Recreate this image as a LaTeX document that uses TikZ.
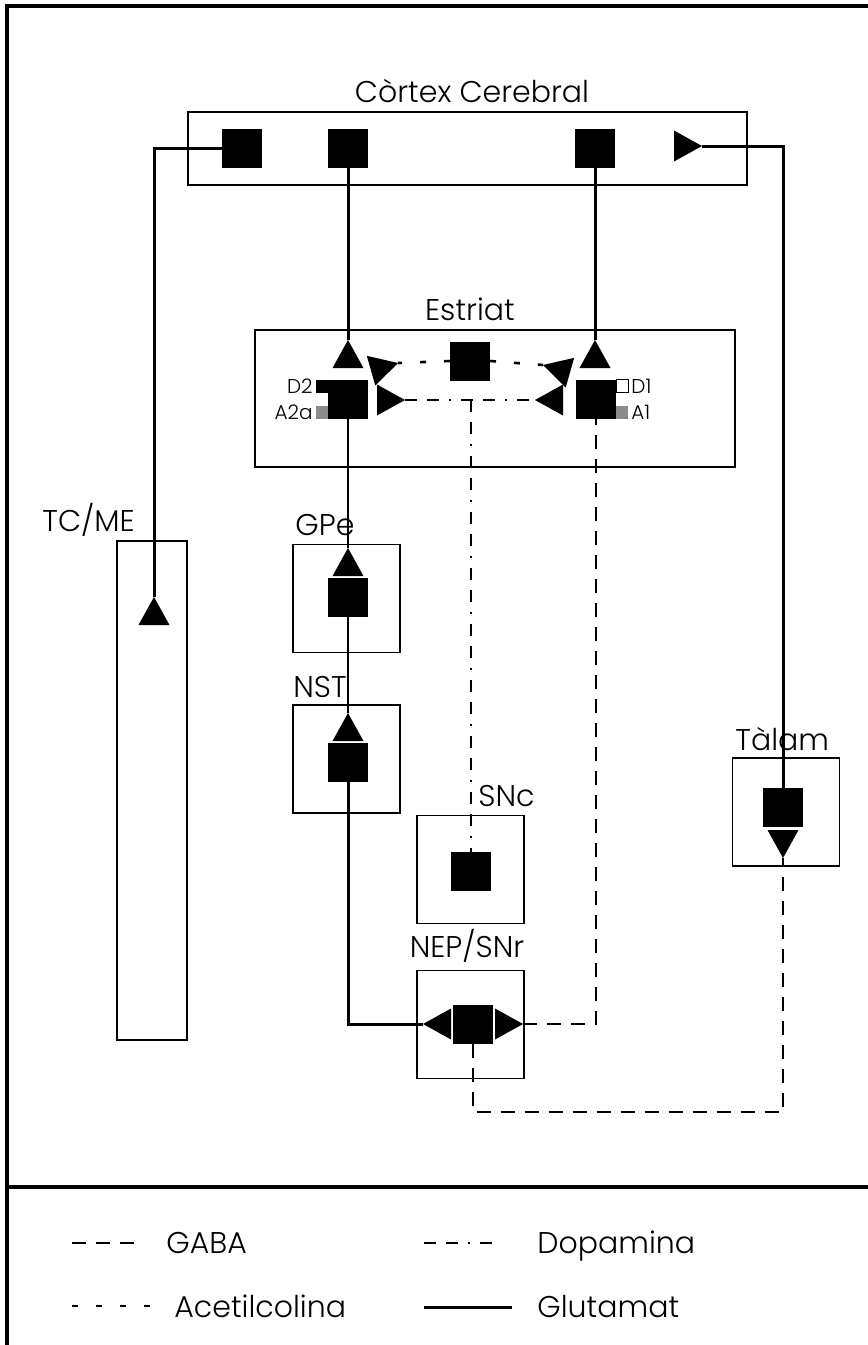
\documentclass[tikz,border=0pt]{standalone}
\usepackage{fontspec}
\setmainfont{Poppins}[UprightFont=* Light]
\usetikzlibrary{positioning,shapes.geometric}

\begin{document}
\begin{tikzpicture}[x=0.5pt,y=-0.5pt,
    box/.style={draw,line width=0.8pt,minimum width=53.5pt,minimum height=54pt,inner sep=0pt},
    sq/.style={fill=black,minimum width=20pt,minimum height=19.5pt,inner sep=0pt,outer sep=0pt},
    tri/.style={isosceles triangle,isosceles triangle stretches,fill=black,inner sep=0pt,outer sep=0pt,minimum width=15.5pt,minimum height=14pt},
    rec/.style={minimum width=6pt,minimum height=6.5pt,inner sep=0pt,outer sep=0pt},
    glu/.style={line width=1.5pt},
    thinglu/.style={line width=0.6pt},
    gaba/.style={line width=1.3pt,dash pattern=on 7pt off 5pt},
    da/.style={line width=1.2pt,dash pattern=on 6pt off 5pt on 6pt off 5pt on 1pt off 5pt},
    ach/.style={line width=1.3pt,dash pattern=on 3pt off 9pt},
    lbl/.style={font=\fontsize{15}{17}\selectfont,inner sep=0pt},
    small/.style={font=\fontsize{10}{11}\selectfont,inner sep=0pt}]
  \useasboundingbox (0,0) rectangle (868,1345);
  \draw[line width=2.2pt] (7,1345) -- (7,6) -- (868,6);
  \draw[line width=2pt] (7,1187) -- (868,1187);

  \node[box,minimum width=279.5pt,minimum height=36.5pt] (ctx) at (467.5,148.5) {};
  \node[lbl,anchor=base] (ctxl) at (472,102) {Còrtex Cerebral};
  \node[sq] (c1) at (242,148) {};
  \node[sq] (c2) at (348,148) {};
  \node[sq] (c3) at (595,148) {};
  \node[tri,anchor=apex] (ctri) at (702,146) {};

  \node[box,minimum width=240pt,minimum height=68.5pt] (est) at (495,398.5) {};
  \node[lbl,anchor=base] (estl) at (470,320) {Estriat};
  \node[tri,rotate=90,anchor=apex] (eL) at (348,340) {};
  \node[tri,rotate=90,anchor=apex] (eR) at (595,340) {};
  \node[sq] (sD2) at (348,399) {};
  \node[sq] (sD1) at (596,399) {};
  \node[sq] (sACh) at (470,361) {};
  \node[tri,rotate=16,anchor=apex] (aL) at (398,363) {};
  \node[tri,rotate=164,anchor=apex] (aR) at (543,365) {};
  \node[tri,anchor=apex] (dL) at (405,400) {};
  \node[tri,rotate=180,anchor=apex] (dR) at (535,400) {};
  \node[rec,fill=black,anchor=north east] (d2r) at (sD2.north west) {};
  \node[rec,fill=black!45,anchor=south east] (a2r) at (sD2.south west) {};
  \node[rec,draw,line width=0.4pt,fill=white,anchor=north west] (d1r) at (sD1.north east) {};
  \node[rec,fill=black!45,anchor=south west] (a1r) at (sD1.south east) {};
  \node[small,left=1.5pt of d2r] (d2l) {D2};
  \node[small,left=1.5pt of a2r] (a2l) {A2a};
  \node[small,right=1.5pt of d1r] (d1l) {D1};
  \node[small,right=1.5pt of a1r] (a1l) {A1};

  \node[box,minimum width=35pt,minimum height=249.5pt] (tcme) at (152,790.5) {};
  \node[lbl,anchor=base west] (tcmel) at (42,531) {TC/ME};
  \node[tri,rotate=90,anchor=apex] (tcT) at (154,597) {};

  \node[box] (gpe) at (346.5,598.5) {};
  \node[lbl,anchor=base west] (gpel) at (295,535) {GPe};
  \node[tri,rotate=90,anchor=apex] (gT) at (348,548) {};
  \node[sq] (gS) at (348,597) {};

  \node[box] (nst) at (346.5,759) {};
  \node[lbl,anchor=base west] (nstl) at (293,697) {NST};
  \node[tri,rotate=90,anchor=apex] (nT) at (348,713) {};
  \node[sq] (nS) at (348,762) {};

  \node[box] (snc) at (470.5,869.5) {};
  \node[lbl,anchor=base west] (sncl) at (478,806) {SNc};
  \node[sq] (snS) at (471,871) {};

  \node[box] (nep) at (470.5,1024.5) {};
  \node[lbl,anchor=base] (nepl) at (467,957) {NEP/SNr};
  \node[sq] (nepS) at (473,1024) {};
  \node[tri,rotate=180,anchor=apex] (nepL) at (423,1024) {};
  \node[tri,anchor=apex] (nepR) at (523,1024) {};

  \node[box] (tal) at (786,812) {};
  \node[lbl,anchor=base west] (tall) at (735,750) {Tàlam};
  \node[sq] (tS) at (783,807) {};
  \node[tri,rotate=-90,anchor=apex] (tT) at (783,858) {};

  \coordinate (gb) at (473,1112);

  \draw[glu] (c1.west) -| (tcT.apex);
  \draw[glu] (c2.south) -- (eL.apex);
  \draw[glu] (c3.south) -- (eR.apex);
  \draw[glu] (ctri.apex) -| (tS.north);
  \draw[thinglu] (sD2.south) -- (gT.apex);
  \draw[thinglu] (gS.south) -- (nT.apex);
  \draw[glu] (nS.south) |- (nepL.apex);
  \draw[ach] (sACh.west) -- (aL.apex);
  \draw[ach] (sACh.east) -- (aR.apex);
  \draw[da] (dL.apex) -- (dR.apex);
  \draw[da] (snS.north |- dL.apex) -- (snS.north);
  \draw[gaba] (nepR.apex) -| (sD1.south);
  \draw[gaba] (nepS.south) -- (gb) -| (tT.apex);

  \draw[gaba] (72,1243) -- (144,1243);
  \node[lbl,anchor=base west] (k1) at (166,1253) {GABA};
  \draw[da] (424,1243) -- (501,1243);
  \node[lbl,anchor=base west] (k2) at (537,1253) {Dopamina};
  \draw[ach] (72,1306) -- (150,1306);
  \node[lbl,anchor=base west] (k3) at (174,1317) {Acetilcolina};
  \draw[glu] (424,1307) -- (512,1307);
  \node[lbl,anchor=base west] (k4) at (537,1317) {Glutamat};
\end{tikzpicture}
\end{document}
